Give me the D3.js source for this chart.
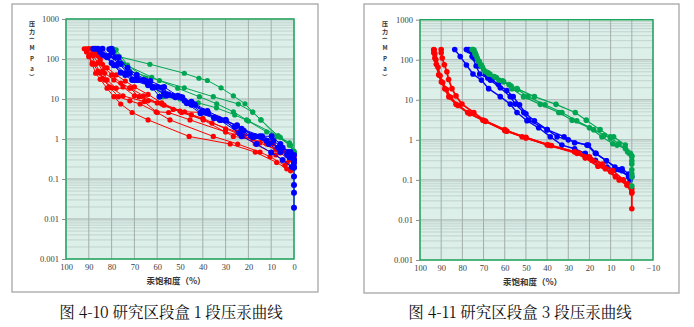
<!DOCTYPE html>
<html><head><meta charset="utf-8">
<script src="https://cdn.jsdelivr.net/npm/d3@7"></script>
<style>
html,body{margin:0;padding:0;background:#fff;}
svg{display:block;}
</style></head>
<body><svg id="c" width="694" height="327"></svg>
<script>
// ---------- data ----------
const yTickValues = [1000, 100, 10, 1, 0.1, 0.01, 0.001];
const yTickLabels = ["1000", "100", "10", "1", "0.1", "0.01", "0.001"];
const xTicksLeft = [100, 90, 80, 70, 60, 50, 40, 30, 20, 10, 0];
const xTicksRight = [100, 90, 80, 70, 60, 50, 40, 30, 20, 10, 0, -10];
const xTitle = "汞饱和度（%）";
const yTitleChars = ["压", "力", "(", "M", "P", "a", ")"];
const captionLeft = "图 4-10 研究区段盒 1 段压汞曲线";
const captionRight = "图 4-11 研究区段盒 3 段压汞曲线";

// left chart (box 1): [saturation %, pressure MPa]
const leftGreen = [
  [[80,175],[76.6,114],[63.2,74],[48.1,44],[41.7,33],[38,29],[32,19],[26.6,12],[21.5,7.6],[18.1,4.7],[14.5,3.0],[7,1.2],[2,0.75],[0,0.48]],
  [[80,175],[74.6,75],[62.4,35],[51,18.6],[41.5,11.4],[33.9,7.6],[26.6,4.8],[20.8,3.0],[7,1.2],[2,0.7],[0,0.45]],
  [[79,175],[72,50],[59,29],[48.1,19],[35.4,11.4],[24.4,7.5],[18.1,4.7],[14.5,3.0],[7.5,1.15],[1.5,0.7],[0,0.45]],
  [[78,170],[73,70],[65,33],[57.6,11.4],[50,10],[42,8],[34,6],[26,4],[20,2.8],[12,1.5],[6,1.1],[2,0.8],[0,0.5]]
];
const leftBlue = [
  [[87,180],[85,150],[82,110],[78,70],[74,44],[68,30],[62,19],[59,11.4],[52,11],[47,7.8],[41,4.4],[35,3.3],[30,2.9],[23,1.17],[16.4,0.75],[10,0.46],[5,0.3],[1,0.2],[0,0.19],[0,0.115],[0,0.071],[0,0.045],[0,0.019]],
  [[88,180],[84,130],[80,80],[76,45],[71,30],[64,22],[57,14],[50,11.4],[45,7.2],[40.5,4.6],[35,3.5],[30,3.0],[22,1.6],[15,1.17],[9.8,1.17],[6,0.75],[2.5,0.47],[0,0.3]],
  [[86,180],[83,120],[79,70],[74,40],[69,30],[62,20],[56,12],[48,9],[43.4,7.2],[37.6,4.4],[32.5,3.0],[24,1.4],[18,1.1],[12,0.9],[6,0.6],[2,0.4],[0,0.25]],
  [[80,180],[79.5,150],[78.5,110],[76,75],[72,44],[66,30],[60,20],[55,13],[49,11],[44,7.5],[39,4.6],[32,3.0],[26,2.0],[19,1.2],[12,0.9],[7,0.6],[3,0.4],[0,0.3]],
  [[84,180],[81,120],[77,80],[73,44],[70,30],[65,28],[58,19],[53,12],[46,8],[40,5],[33,3.2],[25,2.2],[17,1.17],[11,0.75],[6,0.47],[2,0.35],[0,0.2]],
  [[81,175],[80,150],[77,110],[73,60],[69,40],[63,28],[57,20],[51,12],[45,8.5],[38,5],[30,3.0],[23,1.8],[14,1.17],[9,0.9],[5,0.6],[1.5,0.47],[0,0.4]]
];
const leftRed = [
  [[92,180],[91,150],[90,114],[88.5,74],[87,44],[85,31],[82,18.6],[79,11.4],[76,7.5],[71,4.6],[64,3.0],[46,1.16],[28,0.75],[17,0.47],[7.6,0.26],[3.2,0.18],[1.5,0.16],[0,0.3]],
  [[91,180],[90,120],[88.5,80],[86,50],[84,33],[81,20],[77,11.4],[72,9],[67.5,7.5],[60,4.6],[54.4,3.0],[35.4,1.16],[24.7,0.75],[14.9,0.47],[10.5,0.36],[4,0.22],[0,0.35]],
  [[90,180],[89,130],[87,74],[85,44],[83,30],[80,19],[75,12],[65.7,8.6],[60.5,4.8],[55,4.6],[45.6,3.0],[30,1.5],[22,1.16],[17,0.75],[8,0.4],[3,0.25],[0,0.38]],
  [[89,180],[88,120],[86,80],[84,50],[82,30],[78,18.6],[71.9,18.6],[68,11.4],[58,7.5],[49.3,4.6],[39.8,3.0],[26.6,1.16],[18,1.0],[12,0.75],[6,0.45],[2,0.3],[0,0.45]],
  [[88,180],[87,140],[85,100],[83,60],[80,40],[76,25],[72,19],[66,12],[60,8],[53,5.5],[45,4.0],[36,2.5],[25,1.5],[18,1.16],[14,1.0],[9,0.75],[3,0.48],[0,0.45]],
  [[90,180],[88,140],[85,90],[82,60],[78,40],[74,28],[70,20],[64,13],[58,8],[50,5],[40,3.3],[30,1.8],[22,1.2],[15,0.8],[8,0.55],[2,0.4],[0,0.42]],
  [[87,180],[86,120],[84,74],[83,44],[79,30],[75,20],[70,12],[64,9],[57,7],[48,4.8],[40,4.6],[34,3.5],[25,2.2],[18,1.2],[10,0.8],[4,0.5],[0,0.45]]
];

// right chart (box 3)
const rightGreen = [
  [[75.4,180],[74,150],[73,110],[71.4,74],[69.9,55],[67.6,44],[64,36],[60.5,28],[54.2,19],[46,12],[35.8,7.7],[26.7,4.8],[21.5,3.1],[15,1.8],[10.2,1.2],[8.6,1.2],[3.1,0.74],[0.7,0.46],[0,0.4]],
  [[75,180],[74,140],[72.5,95],[71,74],[69,50],[67,44],[62.8,31],[58,24],[56.6,19],[51.1,12],[43.2,7.7],[34.5,4.8],[28.2,3.1],[20,2],[14.1,1.2],[9,0.8],[7,0.74],[3,0.6],[1,0.45],[0,0.3],[0,0.18],[0,0.12],[0,0.07]],
  [[74.5,175],[73.5,130],[72,90],[70.5,65],[68,48],[65,38],[61,30],[57,22],[54,18],[49,12],[41,7.5],[33,4.8],[26,3.0],[18,1.8],[13,1.3],[10,1.1],[6,0.8],[2,0.5],[0,0.38],[0,0.25],[0,0.14]]
];
const rightBlue = [
  [[83.6,180],[81,120],[78.1,74],[75,44],[71,31],[67.6,19],[62.1,12],[57.4,7.8],[54.2,4.8],[49.5,3.0],[44,2.0],[38.5,1.2],[33,0.74],[27,0.6],[22,0.46],[17.2,0.31],[11.7,0.21],[7.8,0.18],[4.6,0.17],[1.5,0.12]],
  [[78.1,180],[77,170],[75.4,120],[73.5,70],[71.8,44],[68,35],[66.8,31],[62.1,20],[57.4,12],[55,7.8],[51,4.8],[48.7,3.1],[40,1.8],[35.3,1.2],[30,1.0],[21.2,0.74],[17.2,0.46],[12,0.3],[8,0.21],[4.6,0.19],[1.5,0.14],[0,0.12]],
  [[77,180],[76,160],[74.5,110],[72,70],[69,44],[66,32],[63,24],[59,17],[56,12],[53,7.5],[50,4.5],[46,3.0],[40,1.8],[32,1.2],[27,0.85],[20.5,0.74],[16.9,0.46],[12,0.3],[6,0.18],[1.5,0.12],[0.8,0.1]]
];
const rightRed = [
  [[93.5,180],[93.5,150],[93,110],[92.3,77],[91.2,42],[89.9,28],[88.3,19],[86.4,12],[83,7.7],[77.5,4.8],[70.3,3.1],[60,1.8],[51.8,1.2],[39.2,0.74],[25.9,0.46],[18.8,0.31],[12.5,0.19],[7.8,0.12],[2.3,0.074],[0,0.047],[0,0.019]],
  [[90,180],[90,150],[89.5,110],[88.5,75],[87.3,50],[86.5,32],[84.9,19],[83,12.5],[80.2,7.8],[74.6,4.8],[69.5,3.0],[60,1.7],[50,1.15],[40,0.75],[25,0.47],[20,0.38],[14,0.25],[9,0.17],[4,0.1],[1,0.07],[0,0.05]],
  [[93.3,175],[93,140],[92.5,100],[91.5,65],[90.5,40],[89.3,27],[87.5,18],[85.5,11.5],[82,7.2],[76.5,4.5],[69,2.9],[59,1.65],[50,1.12],[38,0.72],[27,0.5],[22,0.35],[16,0.22],[10,0.16],[6,0.1],[2,0.08],[0,0.06]]
];

// ---------- drawing ----------
const svg = d3.select("#c");
const COL = {red:"#ff0000", blue:"#0000ff", green:"#00a651"};

function chart(opt) {
  const g = svg.append("g");
  g.append("rect").attr("x", opt.box[0]).attr("y", opt.box[1])
    .attr("width", opt.box[2]-opt.box[0]).attr("height", opt.box[3]-opt.box[1])
    .attr("fill", "#fff").attr("stroke", "#a6a6a6").attr("stroke-width", 1.3);

  const x = d3.scaleLinear().domain(opt.xDomain).range([opt.px0, opt.px1]);
  const y = d3.scaleLog().domain([0.001, 1000]).range([opt.py1, opt.py0]);

  g.append("rect").attr("x", opt.px0).attr("y", opt.py0)
    .attr("width", opt.px1-opt.px0).attr("height", opt.py1-opt.py0)
    .attr("fill", "#dcefe9");

  const minor = [];
  for (let k = -3; k < 3; k++) for (let m = 2; m <= 9; m++) minor.push(m*Math.pow(10,k));
  g.selectAll(null).data(minor).enter().append("line")
    .attr("x1", opt.px0).attr("x2", opt.px1)
    .attr("y1", d => y(d)).attr("y2", d => y(d))
    .attr("stroke", "#b9c7c3").attr("stroke-width", 0.7);
  g.selectAll(null).data(yTickValues).enter().append("line")
    .attr("x1", opt.px0).attr("x2", opt.px1)
    .attr("y1", d => y(d)).attr("y2", d => y(d))
    .attr("stroke", "#a3aeab").attr("stroke-width", 1);
  g.selectAll(null).data(opt.xTicks).enter().append("line")
    .attr("x1", d => x(d)).attr("x2", d => x(d))
    .attr("y1", opt.py0).attr("y2", opt.py1)
    .attr("stroke", "#a3aeab").attr("stroke-width", 1);

  g.append("rect").attr("x", opt.px0).attr("y", opt.py0)
    .attr("width", opt.px1-opt.px0).attr("height", opt.py1-opt.py0)
    .attr("fill", "none").attr("stroke", "#1aa55a").attr("stroke-width", 1.4);

  const ya = d3.axisLeft(y).tickValues(yTickValues)
    .tickFormat((d,i) => yTickLabels[i]).tickSize(4).tickPadding(3);
  const yg = g.append("g").attr("transform", `translate(${opt.px0},0)`).call(ya);
  yg.select(".domain").remove();
  yg.selectAll("line").attr("stroke", "#8c8c8c");
  yg.selectAll("text").attr("fill", "#404040").style("font-family", "'Liberation Serif', serif").style("font-size", "8.5px");

  const xa = d3.axisBottom(x).tickValues(opt.xTicks)
    .tickFormat(d => d < 0 ? "−" + Math.abs(d) : String(d)).tickSize(0).tickPadding(5);
  const xg = g.append("g").attr("transform", `translate(0,${opt.py1})`).call(xa);
  xg.select(".domain").remove();
  xg.selectAll("text").attr("fill", "#404040").style("font-family", "'Liberation Serif', serif").style("font-size", "8.5px");

  g.append("text").attr("x", (opt.px0+opt.px1)/2 - 4).attr("y", opt.py1 + 25)
    .attr("text-anchor", "middle").attr("fill", "#333")
    .style("font-family", "'Noto Sans CJK SC', sans-serif").style("font-size", "8.5px").style("font-weight", "bold")
    .text(xTitle);

  // vertical y title: one glyph per line, parentheses rotated
  const ytY = [23.5, 31, 38.5, 47, 58, 68, 75];
  yTitleChars.forEach((c, i) => {
    const isParen = (c === "(" || c === ")");
    g.append("text").attr("x", 0).attr("y", 0)
      .attr("text-anchor", "middle").attr("dominant-baseline", "central").attr("fill", "#333")
      .style("font-family", isParen ? "'DejaVu Sans', sans-serif" : "'Noto Sans CJK SC', sans-serif")
      .style("font-size", isParen ? "5.5px" : "6px").style("font-weight", "bold")
      .attr("transform", `translate(${opt.ytx},${ytY[i]})` + (isParen ? " rotate(90)" : ""))
      .text(c);
  });

  const line = d3.line().x(d => x(d[0])).y(d => y(d[1]));
  opt.series.forEach(s => {
    const sg = g.append("g");
    s.data.forEach(curve => {
      sg.append("path").datum(curve).attr("d", line).attr("fill", "none")
        .attr("stroke", COL[s.color]).attr("stroke-width", s.lw);
      sg.selectAll(null).data(curve).enter().append("circle")
        .attr("cx", d => x(d[0])).attr("cy", d => y(d[1])).attr("r", s.r)
        .attr("fill", COL[s.color]);
    });
  });

  g.append("text").attr("x", opt.capX).attr("y", 318)
    .attr("text-anchor", "middle").attr("fill", "#111")
    .style("font-family", "'Noto Serif CJK SC', 'Noto Sans CJK SC', serif").style("font-size", "15.5px")
    .text(opt.caption);
}

chart({
  box: [12, 4, 318, 292],
  px0: 66, px1: 294, py0: 19, py1: 259,
  xDomain: [100, 0], xTicks: xTicksLeft, ytx: 32,
  caption: captionLeft, capX: 171,
  series: [
    {color: "red", data: leftRed, lw: 1, r: 2.6},
    {color: "green", data: leftGreen, lw: 1, r: 2.6},
    {color: "blue", data: leftBlue, lw: 1, r: 3}
  ]
});
chart({
  box: [364, 4, 679, 293],
  px0: 420, px1: 653, py0: 19.7, py1: 260,
  xDomain: [100, -10], xTicks: xTicksRight, ytx: 385,
  caption: captionRight, capX: 520,
  series: [
    {color: "blue", data: rightBlue, lw: 1.4, r: 2.8},
    {color: "red", data: rightRed, lw: 1.8, r: 2.8},
    {color: "green", data: rightGreen, lw: 1.2, r: 2.8}
  ]
});
</script></body></html>
